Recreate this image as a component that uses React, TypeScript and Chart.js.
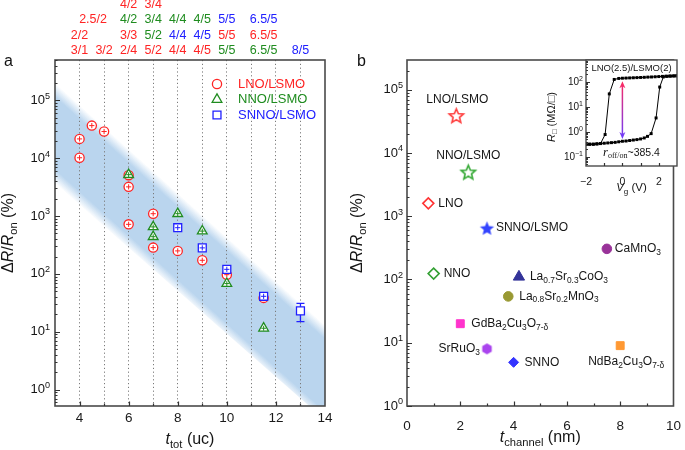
import React, { useEffect, useRef } from 'react';
import { Chart, registerables } from 'chart.js';
Chart.register(...registerables);

const SANS = "'Liberation Sans', Arial, Helvetica, sans-serif";
const SERIF = "'Liberation Serif', 'Times New Roman', serif";
Chart.defaults.font.family = SANS;

// ---------------- Panel a data ----------------
const seriesNames = ['LNO/LSMO', 'NNO/LSMO', 'SNNO/LSMO'];
const seriesColors = ['#ff2424', '#1f8c1f', '#2020ff'];
const lnoX = [4, 4, 4.5, 5, 6, 6, 6, 7, 7, 8, 9, 10, 11.5];
const lnoY = [21600, 10200, 36700, 29000, 5100, 3200, 720, 1100, 285, 250, 172, 97, 38.5];
const nnoX = [6, 7, 7, 8, 9, 10, 11.5];
const nnoY = [5200, 650, 440, 1100, 550, 68, 11.5];
const snnoX = [8, 9, 10, 11.5, 13];
const snnoY = [630, 282, 120, 41, 23];
const snnoErrLow: (number | null)[] = [null, null, null, null, 15];
const snnoErrHigh: (number | null)[] = [null, null, null, null, 31];
const bandX = [3, 14];
const bandUpper = [2.0e5, 13];
const bandLower = [3.7e3, 0.3];
const aXGrid = [3, 4, 5, 6, 7, 8, 9, 10, 11, 12, 13, 14];
const aXTickLabels = [4, 6, 8, 10, 12, 14];
const aXMinor = [5, 7, 9, 11, 13];
const aYTickLabels = [1, 10, 100, 1000, 10000, 100000];

// thickness labels above panel a (x position, text, series index)
const fracRow1X = [4, 5, 6, 7, 8, 9, 10, 11.5, 13];
const fracRow1Text = ['3/1', '3/2', '2/4', '5/2', '4/4', '4/5', '5/5', '6.5/5', '8/5'];
const fracRow1Series = [0, 0, 0, 0, 0, 0, 1, 1, 2];
const fracRow2X = [4, 6, 7, 8, 9, 10, 11.5];
const fracRow2Text = ['2/2', '3/3', '5/2', '4/4', '4/5', '5/5', '6.5/5'];
const fracRow2Series = [0, 0, 1, 2, 2, 0, 0];
const fracRow3X = [4.55, 6, 7, 8, 9, 10, 11.5];
const fracRow3Text = ['2.5/2', '4/2', '3/4', '4/4', '4/5', '5/5', '6.5/5'];
const fracRow3Series = [0, 1, 1, 1, 1, 2, 2];
const fracRow4X = [6, 7];
const fracRow4Text = ['4/2', '3/4'];
const fracRow4Series = [0, 0];

// ---------------- Panel b data ----------------
const bMaterials = [
  'LNO/LSMO', 'NNO/LSMO', 'LNO', 'SNNO/LSMO', 'CaMnO_{3}', 'NNO',
  'La_{0.7}Sr_{0.3}CoO_{3}', 'La_{0.8}Sr_{0.2}MnO_{3}', 'GdBa_{2}Cu_{3}O_{7-δ}',
  'SrRuO_{3}', 'SNNO', 'NdBa_{2}Cu_{3}O_{7-δ}',
];
const bThickness = [1.85, 2.3, 0.8, 3.0, 7.5, 1.0, 4.2, 3.8, 2.0, 3.0, 4.0, 8.0];
const bRatio = [39000, 5000, 1600, 650, 305, 124, 110, 54, 20, 8.0, 4.9, 9.0];
const bColors = ['#ff3b3b', '#33a833', '#ff3333', '#3344ff', '#993399', '#33a033',
  '#333399', '#999933', '#ff33cc', '#aa44ee', '#3333ff', '#ff9933'];
const bShapes = ['star', 'star', 'diamond', 'star', 'circle', 'diamond', 'triangle', 'circle', 'rect', 'hexagon', 'diamond', 'rect'];
const bFilled = [false, false, false, true, true, false, true, true, true, true, true, true];
const bLabelDx = [1, 0, 10, 9, 8, 10, 11, 11, 11, -7, 11, 6];
const bLabelDy = [-16, -16, 0, 0, 0, 0, 0, 0, 0, 0, 0, 16];
const bLabelAlign = ['center', 'center', 'left', 'left', 'left', 'left', 'left', 'left', 'left', 'right', 'left', 'center'];
const bXTickLabels = [0, 2, 4, 6, 8, 10];
const bXMinor = [1, 3, 5, 7, 9];
const bYTickLabels = [1, 10, 100, 1000, 10000, 100000];

// ---------------- Inset data ----------------
const insetVDown = [3.0, 2.8, 2.6, 2.4, 2.2, 2.0, 1.8, 1.6, 1.4, 1.2, 1.0, 0.8, 0.6, 0.4, 0.2, 0.0, -0.2, -0.45, -0.72, -0.95, -1.2, -1.4, -1.6, -1.8, -2.0];
const insetRDown = [175, 173, 171, 169, 166, 163, 160, 157, 155, 152, 150, 148, 146, 144, 142, 140, 137, 125, 33, 0.78, 0.34, 0.33, 0.32, 0.32, 0.31];
const insetVUp = [-2.0, -1.8, -1.6, -1.4, -1.2, -1.0, -0.8, -0.6, -0.4, -0.2, 0.0, 0.2, 0.4, 0.6, 0.8, 1.0, 1.2, 1.38, 1.58, 1.85, 2.05, 2.25, 2.45, 2.65, 2.85, 3.0];
const insetRUp = [0.31, 0.32, 0.32, 0.33, 0.34, 0.35, 0.36, 0.37, 0.38, 0.4, 0.42, 0.43, 0.45, 0.47, 0.49, 0.52, 0.57, 0.66, 0.85, 3.6, 62, 158, 166, 170, 173, 175];
const insetXTicks = [-2, -1, 0, 1, 2, 3];
const insetXTickLabels = [-2, 0, 2];
const insetYTickLabels = [0.1, 1, 10, 100];
const arrowV = 0;
const arrowTop = 105;
const arrowBottom = 0.52;
const insetTitle = 'LNO(2.5)/LSMO(2)';
const ratioText = '~385.4';

// ---------------- helpers ----------------
type Seg = { t: string; sub?: boolean; sup?: boolean; it?: boolean; serif?: boolean; k?: number };
function parseRich(s: string): Seg[] {
  const segs: Seg[] = [];
  const re = /_\{([^}]*)\}|\^\{([^}]*)\}|([^_^]+)/g;
  let m: RegExpExecArray | null;
  while ((m = re.exec(s))) {
    if (m[1] !== undefined) segs.push({ t: m[1], sub: true });
    else if (m[2] !== undefined) segs.push({ t: m[2], sup: true });
    else segs.push({ t: m[3] });
  }
  return segs;
}
function drawRich(ctx: CanvasRenderingContext2D, s: string | Seg[], x: number, y: number, align: string, size: number, color = '#151515') {
  const segs = typeof s === 'string' ? parseRich(s) : s;
  const sz = (g: Seg) => (g.sub || g.sup ? size * 0.7 : size) * (g.k || 1);
  const font = (g: Seg) => `${g.it ? 'italic ' : ''}${sz(g)}px ${g.serif ? SERIF : SANS}`;
  let total = 0;
  const widths = segs.map((g) => { ctx.font = font(g); const w = ctx.measureText(g.t).width; total += w; return w; });
  let cx = align === 'left' ? x : align === 'center' ? x - total / 2 : x - total;
  ctx.save();
  ctx.fillStyle = color;
  ctx.textBaseline = 'middle';
  ctx.textAlign = 'left';
  segs.forEach((g, i) => {
    ctx.font = font(g);
    const dy = g.sub ? size * 0.3 : g.sup ? -size * 0.32 : 0;
    ctx.fillText(g.t, cx, y + dy);
    cx += widths[i];
  });
  ctx.restore();
}
function drawFrame(ctx: CanvasRenderingContext2D, ca: any, lw = 1.6) {
  ctx.save(); ctx.strokeStyle = '#4a4a4a'; ctx.lineWidth = lw;
  ctx.strokeRect(ca.left, ca.top, ca.right - ca.left, ca.bottom - ca.top); ctx.restore();
}
function drawLogTicks(ctx: CanvasRenderingContext2D, scale: any, ca: any, major: number, minor: number) {
  const lo = Math.floor(Math.log10(scale.min)), hi = Math.ceil(Math.log10(scale.max));
  ctx.save(); ctx.strokeStyle = '#333'; ctx.lineWidth = 1; ctx.beginPath();
  for (let k = lo; k <= hi; k++) for (let m = 1; m <= 9; m++) {
    const v = m * Math.pow(10, k);
    if (v < scale.min || v > scale.max) continue;
    const y = Math.round(scale.getPixelForValue(v)) + 0.5;
    ctx.moveTo(ca.left, y); ctx.lineTo(ca.left + (m === 1 ? major : minor), y);
  }
  ctx.stroke(); ctx.restore();
}
function drawBottomTicks(ctx: CanvasRenderingContext2D, scale: any, ca: any, majors: number[], minors: number[], major: number, minor: number) {
  ctx.save(); ctx.strokeStyle = '#333'; ctx.lineWidth = 1.2; ctx.beginPath();
  const f = (v: number, l: number) => { const x = Math.round(scale.getPixelForValue(v)) + 0.5; ctx.moveTo(x, ca.bottom); ctx.lineTo(x, ca.bottom - l); };
  majors.forEach((v) => f(v, major)); minors.forEach((v) => f(v, minor));
  ctx.stroke(); ctx.restore();
}
function drawPowLabels(ctx: CanvasRenderingContext2D, scale: any, vals: number[], xRight: number, size: number) {
  vals.forEach((v) => {
    const e = Math.round(Math.log10(v));
    drawRich(ctx, [{ t: '10' }, { t: String(e).replace('-', '−'), sup: true }], xRight, scale.getPixelForValue(v), 'right', size);
  });
}
function pts(xs: number[], ys: number[]) { return xs.map((x, i) => ({ x, y: ys[i] })); }

function makeStar(R: number, color: string, filled: boolean) {
  const lw = 1.6; const size = Math.ceil(2 * R + 2 * lw + 2);
  const c = document.createElement('canvas'); c.width = size; c.height = size;
  const g = c.getContext('2d')!; const cx = size / 2, cy = size / 2 + R * 0.1;
  g.beginPath();
  for (let i = 0; i < 10; i++) {
    const r = i % 2 === 0 ? R : R * 0.45; const a = -Math.PI / 2 + (i * Math.PI) / 5;
    g.lineTo(cx + r * Math.cos(a), cy + r * Math.sin(a));
  }
  g.closePath();
  if (filled) { g.fillStyle = color; g.fill(); } else { g.fillStyle = '#fff'; g.fill(); g.strokeStyle = color; g.lineWidth = lw; g.lineJoin = 'miter'; g.stroke(); }
  return c;
}
function makeHex(R: number, color: string) {
  const size = Math.ceil(2 * R + 2);
  const c = document.createElement('canvas'); c.width = size; c.height = size;
  const g = c.getContext('2d')!; const cx = size / 2, cy = size / 2;
  g.beginPath();
  for (let i = 0; i < 6; i++) { const a = -Math.PI / 2 + (i * Math.PI) / 3; g.lineTo(cx + R * Math.cos(a), cy + R * Math.sin(a)); }
  g.closePath(); g.fillStyle = color; g.fill();
  return c;
}

// ---------------- Panel a plugins ----------------
const bandPlugin = {
  id: 'bandA',
  beforeDraw(chart: any) {
    const { ctx, chartArea: ca, scales: { x, y } } = chart;
    const pU = bandX.map((v, i) => [x.getPixelForValue(v), y.getPixelForValue(bandUpper[i])]);
    const pL = bandX.map((v, i) => [x.getPixelForValue(v), y.getPixelForValue(bandLower[i])]);
    ctx.save();
    ctx.beginPath(); ctx.rect(ca.left, ca.top, ca.right - ca.left, ca.bottom - ca.top); ctx.clip();
    const dx = pU[1][0] - pU[0][0], dy = pU[1][1] - pU[0][1]; const len = Math.hypot(dx, dy);
    const nx = -dy / len, ny = dx / len;
    const wx = pL[0][0] - pU[0][0], wy = pL[0][1] - pU[0][1];
    const dist = wx * nx + wy * ny;
    const g = ctx.createLinearGradient(pU[0][0], pU[0][1], pU[0][0] + nx * dist, pU[0][1] + ny * dist);
    g.addColorStop(0, 'rgba(186,213,238,0)');
    g.addColorStop(0.14, 'rgba(186,213,238,1)');
    g.addColorStop(0.86, 'rgba(186,213,238,1)');
    g.addColorStop(1, 'rgba(186,213,238,0)');
    ctx.fillStyle = g;
    ctx.beginPath();
    ctx.moveTo(pU[0][0], pU[0][1]); ctx.lineTo(pU[1][0], pU[1][1]);
    ctx.lineTo(pL[1][0], pL[1][1]); ctx.lineTo(pL[0][0], pL[0][1]); ctx.closePath(); ctx.fill();
    ctx.restore();
  },
  beforeDatasetsDraw(chart: any) {
    const { ctx, scales: { x, y } } = chart;
    ctx.save(); ctx.strokeStyle = seriesColors[2]; ctx.lineWidth = 1.3; ctx.beginPath();
    snnoX.forEach((xv, i) => {
      const lo = snnoErrLow[i], hi = snnoErrHigh[i];
      if (lo == null || hi == null) return;
      const px = x.getPixelForValue(xv), y1 = y.getPixelForValue(lo), y2 = y.getPixelForValue(hi);
      ctx.moveTo(px, y1); ctx.lineTo(px, y2);
      ctx.moveTo(px - 4, y1); ctx.lineTo(px + 4, y1);
      ctx.moveTo(px - 4, y2); ctx.lineTo(px + 4, y2);
    });
    ctx.stroke(); ctx.restore();
  },
};

function drawMarker(ctx: CanvasRenderingContext2D, kind: string, x: number, y: number, r: number, color: string) {
  ctx.save(); ctx.strokeStyle = color; ctx.fillStyle = '#fff'; ctx.lineWidth = 1.3; ctx.beginPath();
  if (kind === 'circle') ctx.arc(x, y, r, 0, Math.PI * 2);
  else if (kind === 'triangle') { ctx.moveTo(x, y - r); ctx.lineTo(x + r * 0.866, y + r / 2); ctx.lineTo(x - r * 0.866, y + r / 2); ctx.closePath(); }
  else { const s = r * Math.SQRT1_2; ctx.rect(x - s, y - s, 2 * s, 2 * s); }
  ctx.fill(); ctx.stroke(); ctx.restore();
}

const aDecor = {
  id: 'decorA',
  afterDraw(chart: any) {
    const { ctx, chartArea: ca, scales: { x, y } } = chart;
    drawFrame(ctx, ca);
    drawLogTicks(ctx, y, ca, 5, 2.5);
    drawBottomTicks(ctx, x, ca, aXTickLabels.filter((v) => v < 14), aXMinor, 4.5, 2.5);
    drawPowLabels(ctx, y, aYTickLabels, ca.left - 5, 13);
    ctx.save(); ctx.translate(9, (ca.top + ca.bottom) / 2); ctx.rotate(-Math.PI / 2);
    drawRich(ctx, [{ t: 'Δ' }, { t: 'R', it: true }, { t: '/' }, { t: 'R', it: true }, { t: 'on', sub: true }, { t: ' (%)' }], 0, 0, 'center', 16);
    ctx.restore();
    drawRich(ctx, [{ t: 't', it: true }, { t: 'tot', sub: true }, { t: ' (uc)' }], (ca.left + ca.right) / 2, 440, 'center', 16);
    ctx.save(); ctx.font = `16px ${SANS}`; ctx.fillStyle = '#111'; ctx.textBaseline = 'alphabetic'; ctx.fillText('a', 4, 66); ctx.restore();
    const rows: [number[], string[], number[], number][] = [
      [fracRow1X, fracRow1Text, fracRow1Series, 51],
      [fracRow2X, fracRow2Text, fracRow2Series, 36],
      [fracRow3X, fracRow3Text, fracRow3Series, 20],
      [fracRow4X, fracRow4Text, fracRow4Series, 5],
    ];
    rows.forEach(([xs, ts, ss, ry]) => xs.forEach((xv, i) => drawRich(ctx, ts[i], x.getPixelForValue(xv), ry, 'center', 12.5, seriesColors[ss[i]])));
    const kinds = ['circle', 'triangle', 'rect'];
    const radii = [4.6, 5.6, 5.6];
    seriesNames.forEach((n, i) => {
      const ly = ca.top + 24 + i * 15.5;
      drawMarker(ctx, kinds[i], ca.right - 108, ly, radii[i], seriesColors[i]);
      drawRich(ctx, n, ca.right - 87, ly, 'left', 13, seriesColors[i]);
    });
  },
};

// ---------------- Panel b plugins ----------------
const bDecor = {
  id: 'decorB',
  afterDatasetsDraw(chart: any) {
    const { ctx, scales: { x, y } } = chart;
    bMaterials.forEach((m, i) => {
      drawRich(ctx, m, x.getPixelForValue(bThickness[i]) + bLabelDx[i], y.getPixelForValue(bRatio[i]) + bLabelDy[i], bLabelAlign[i], 12, '#151515');
    });
  },
  afterDraw(chart: any) {
    const { ctx, chartArea: ca, scales: { x, y } } = chart;
    drawFrame(ctx, ca);
    drawLogTicks(ctx, y, ca, 5, 2.5);
    drawBottomTicks(ctx, x, ca, bXTickLabels.filter((v) => v > 0 && v < 10), bXMinor, 4.5, 2.5);
    drawPowLabels(ctx, y, bYTickLabels, ca.left - 4, 13);
    ctx.save(); ctx.translate(16, (ca.top + ca.bottom) / 2); ctx.rotate(-Math.PI / 2);
    drawRich(ctx, [{ t: 'Δ' }, { t: 'R', it: true }, { t: '/' }, { t: 'R', it: true }, { t: 'on', sub: true }, { t: ' (%)' }], 0, 0, 'center', 16);
    ctx.restore();
    drawRich(ctx, [{ t: 't', it: true }, { t: 'channel', sub: true }, { t: ' (nm)' }], (ca.left + ca.right) / 2, 438, 'center', 16);
    ctx.save(); ctx.font = `16px ${SANS}`; ctx.fillStyle = '#111'; ctx.textBaseline = 'alphabetic'; ctx.fillText('b', 15, 66); ctx.restore();
  },
};

// ---------------- Inset plugins ----------------
const iDecor = {
  id: 'decorI',
  beforeDraw(chart: any) {
    const { ctx, chartArea: ca } = chart;
    ctx.save(); ctx.fillStyle = '#fff'; ctx.fillRect(ca.left, ca.top, ca.right - ca.left, ca.bottom - ca.top); ctx.restore();
  },
  afterDatasetsDraw(chart: any) {
    const { ctx, scales: { x, y } } = chart;
    const px = x.getPixelForValue(arrowV), y1 = y.getPixelForValue(arrowTop), y2 = y.getPixelForValue(arrowBottom);
    const g = ctx.createLinearGradient(0, y1, 0, y2);
    g.addColorStop(0, '#ff2a5e'); g.addColorStop(1, '#6a3cff');
    ctx.save(); ctx.strokeStyle = g; ctx.fillStyle = g; ctx.lineWidth = 1.5;
    ctx.beginPath(); ctx.moveTo(px, y1 + 4); ctx.lineTo(px, y2 - 4); ctx.stroke();
    ctx.beginPath(); ctx.moveTo(px, y1); ctx.lineTo(px - 3, y1 + 7); ctx.lineTo(px, y1 + 5); ctx.lineTo(px + 3, y1 + 7); ctx.closePath(); ctx.fill();
    ctx.beginPath(); ctx.moveTo(px, y2); ctx.lineTo(px - 3, y2 - 7); ctx.lineTo(px, y2 - 5); ctx.lineTo(px + 3, y2 - 7); ctx.closePath(); ctx.fill();
    ctx.restore();
  },
  afterDraw(chart: any) {
    const { ctx, chartArea: ca, scales: { x, y } } = chart;
    drawFrame(ctx, ca, 1.4);
    drawLogTicks(ctx, y, ca, 4, 2);
    drawBottomTicks(ctx, x, ca, [-1, 0, 1, 2], [], 3, 2);
    drawPowLabels(ctx, y, insetYTickLabels, ca.left - 3, 10);
    const cx = (ca.left + ca.right) / 2;
    drawRich(ctx, insetTitle, cx, ca.top + 8, 'center', 9.5);
    drawRich(ctx, [{ t: 'r', it: true, serif: true, k: 1.2 }, { t: 'off/on', sub: true, serif: true, k: 1.1 }, { t: ratioText }], cx, ca.bottom - 13, 'center', 10.5);
    drawRich(ctx, [{ t: 'V', it: true }, { t: 'g', sub: true }, { t: ' (V)' }], cx, 133, 'center', 11.5);
    ctx.save(); ctx.translate(12, 62); ctx.rotate(-Math.PI / 2);
    drawRich(ctx, [{ t: 'R', it: true }, { t: '□', sub: true }, { t: ' (MΩ/□)' }], 0, 0, 'center', 11);
    ctx.restore();
  },
};

const baseOpts = { animation: false, responsive: false, devicePixelRatio: 1, events: [] as string[] };

export default function App() {
  const aRef = useRef<HTMLCanvasElement>(null);
  const bRef = useRef<HTMLCanvasElement>(null);
  const iRef = useRef<HTMLCanvasElement>(null);

  useEffect(() => {
    const charts: Chart[] = [];
    const snnoCrossX = snnoX.filter((_, i) => snnoErrLow[i] == null);
    const snnoCrossY = snnoY.filter((_, i) => snnoErrLow[i] == null);
    // Chart.js paints datasets from the last index to the first, so the top-most layer comes first here.
    charts.push(new Chart(aRef.current!, {
      type: 'scatter',
      data: {
        datasets: [
          { label: 'snnoBars', data: pts(snnoCrossX, snnoCrossY), pointStyle: 'cross', pointRadius: 2.6, borderColor: seriesColors[2], borderWidth: 1 },
          { label: seriesNames[2], data: pts(snnoX, snnoY), pointStyle: 'rect', pointRadius: 5.6, borderColor: seriesColors[2], backgroundColor: '#fff', borderWidth: 1.3 },
          { label: 'nnoBars', data: pts(nnoX, nnoY), pointStyle: 'cross', pointRadius: 2.4, borderColor: seriesColors[1], borderWidth: 1 },
          { label: seriesNames[1], data: pts(nnoX, nnoY), pointStyle: 'triangle', pointRadius: 5.6, borderColor: seriesColors[1], backgroundColor: '#fff', borderWidth: 1.3 },
          { label: 'lnoBars', data: pts(lnoX, lnoY), pointStyle: 'cross', pointRadius: 2.6, borderColor: seriesColors[0], borderWidth: 1 },
          { label: seriesNames[0], data: pts(lnoX, lnoY), pointStyle: 'circle', pointRadius: 4.6, borderColor: seriesColors[0], backgroundColor: '#fff', borderWidth: 1.3 },
        ],
      },
      options: {
        ...baseOpts,
        layout: { padding: { left: 0, top: 60, right: 17, bottom: 0 } },
        plugins: { legend: { display: false }, tooltip: { enabled: false } },
        scales: {
          x: {
            type: 'linear', min: 3, max: 14,
            border: { display: false, dash: [1.2, 2.6] },
            afterBuildTicks: (s: any) => { s.ticks = aXGrid.map((v) => ({ value: v })); },
            afterFit: (s: any) => { s.height = 44; },
            grid: { drawTicks: false, lineWidth: 1, color: (c: any) => (c.tick && c.tick.value > 3 && c.tick.value < 14 ? '#7a7a7a' : 'rgba(0,0,0,0)') },
            ticks: { autoSkip: false, maxRotation: 0, padding: 4, font: { size: 13.5 }, color: '#1a1a1a', callback: (v: any) => (aXTickLabels.includes(Number(v)) ? String(v) : '') },
          },
          y: {
            type: 'logarithmic', min: 0.52, max: 5e5,
            border: { display: false }, grid: { display: false }, ticks: { display: false },
            afterFit: (s: any) => { s.width = 55; },
          },
        },
      } as any,
      plugins: [bandPlugin, aDecor],
    } as any));

    const bStyles = bShapes.map((s, i) => (s === 'star' ? makeStar(7.5, bColors[i], bFilled[i]) : s === 'hexagon' ? makeHex(5.5, bColors[i]) : s === 'diamond' ? 'rectRot' : s));
    const bRadius = bShapes.map((s, i) => (s === 'diamond' ? (bFilled[i] ? 5 : 5.5) : s === 'triangle' ? 6.5 : s === 'rect' ? 5.6 : 4.8));
    charts.push(new Chart(bRef.current!, {
      type: 'scatter',
      data: {
        datasets: [{
          label: 'materials', data: pts(bThickness, bRatio),
          pointStyle: bStyles as any, pointRadius: bRadius,
          backgroundColor: bColors.map((c, i) => (bFilled[i] ? c : '#fff')),
          borderColor: bColors, borderWidth: bFilled.map((f) => (f ? 1 : 1.6)),
        }],
      },
      options: {
        ...baseOpts,
        layout: { padding: { left: 0, top: 60, right: 8, bottom: 0 } },
        plugins: { legend: { display: false }, tooltip: { enabled: false } },
        scales: {
          x: {
            type: 'linear', min: 0, max: 10, border: { display: false },
            afterBuildTicks: (s: any) => { s.ticks = bXTickLabels.map((v) => ({ value: v })); },
            afterFit: (s: any) => { s.height = 44; },
            grid: { display: false },
            ticks: { autoSkip: false, maxRotation: 0, padding: 4, font: { size: 13.5 }, color: '#1a1a1a' },
          },
          y: {
            type: 'logarithmic', min: 1, max: 2.95e5,
            border: { display: false }, grid: { display: false }, ticks: { display: false },
            afterFit: (s: any) => { s.width = 65; },
          },
        },
      } as any,
      plugins: [bDecor],
    } as any));

    charts.push(new Chart(iRef.current!, {
      type: 'scatter',
      data: {
        datasets: [
          { label: 'down', data: pts(insetVDown, insetRDown), showLine: true, borderColor: '#000', borderWidth: 1, pointStyle: 'rect', pointRadius: 2.1, pointBackgroundColor: '#000', pointBorderWidth: 0 },
          { label: 'up', data: pts(insetVUp, insetRUp), showLine: true, borderColor: '#000', borderWidth: 1, pointStyle: 'rect', pointRadius: 2.1, pointBackgroundColor: '#000', pointBorderWidth: 0 },
        ],
      },
      options: {
        ...baseOpts,
        layout: { padding: { left: 0, top: 5, right: 8, bottom: 0 } },
        plugins: { legend: { display: false }, tooltip: { enabled: false } },
        scales: {
          x: {
            type: 'linear', min: -2, max: 3, border: { display: false },
            afterBuildTicks: (s: any) => { s.ticks = insetXTicks.map((v) => ({ value: v })); },
            afterFit: (s: any) => { s.height = 39; },
            grid: { display: false },
            ticks: { autoSkip: false, maxRotation: 0, padding: 2, font: { size: 10.5 }, color: '#1a1a1a', callback: (v: any) => (insetXTickLabels.includes(Number(v)) ? String(v).replace('-', '−') : '') },
          },
          y: {
            type: 'logarithmic', min: 0.043, max: 750,
            border: { display: false }, grid: { display: false }, ticks: { display: false },
            afterFit: (s: any) => { s.width = 46; },
          },
        },
      } as any,
      plugins: [iDecor],
    } as any));

    return () => charts.forEach((c) => c.destroy());
  }, []);

  return (
    <div style={{ position: 'absolute', left: 0, top: 0, width: 685, height: 450, background: '#fff', overflow: 'hidden' }}>
      <canvas ref={aRef} width={342} height={450} style={{ position: 'absolute', left: 0, top: 0, width: 342, height: 450 }} />
      <canvas ref={bRef} width={343} height={450} style={{ position: 'absolute', left: 342, top: 0, width: 343, height: 450 }} />
      <canvas ref={iRef} width={145} height={150} style={{ position: 'absolute', left: 540, top: 55, width: 145, height: 150 }} />
    </div>
  );
}
